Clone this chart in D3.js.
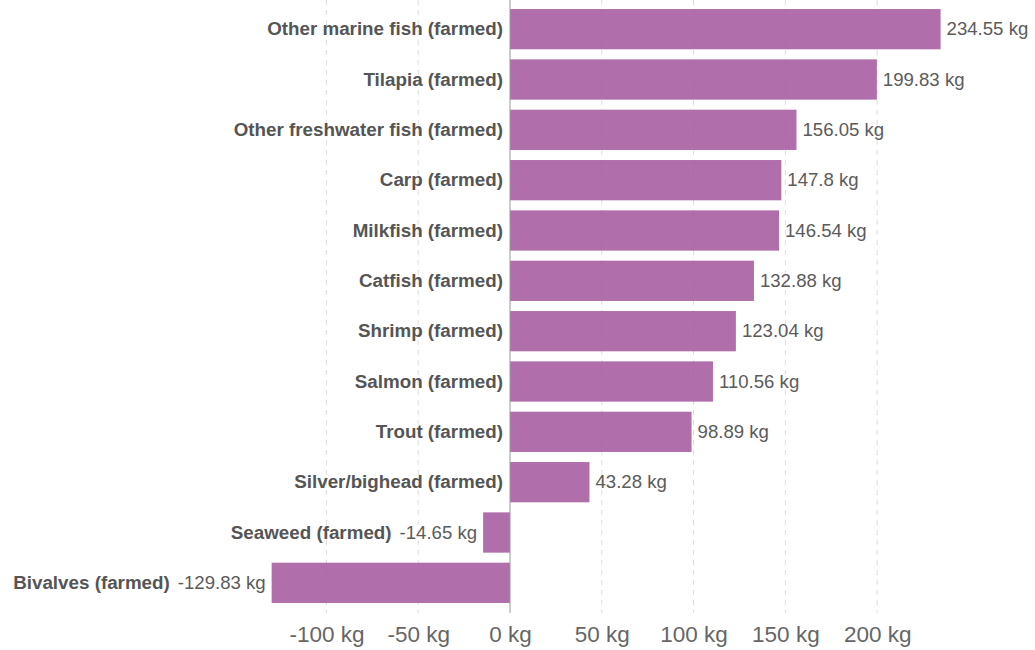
<!DOCTYPE html>
<html><head><meta charset="utf-8">
<script src="https://cdn.jsdelivr.net/npm/d3@7"></script>
<style>body{margin:0;background:#fff;}svg{display:block;font-family:"Liberation Sans",Arial,sans-serif;}</style>
</head><body><svg id="c" width="1035" height="650"></svg>
<script>
const categories = ["Other marine fish (farmed)","Tilapia (farmed)","Other freshwater fish (farmed)","Carp (farmed)","Milkfish (farmed)","Catfish (farmed)","Shrimp (farmed)","Salmon (farmed)","Trout (farmed)","Silver/bighead (farmed)","Seaweed (farmed)","Bivalves (farmed)"];
const values = [234.55,199.83,156.05,147.8,146.54,132.88,123.04,110.56,98.89,43.28,-14.65,-129.83];
const tickValues = [-100,-50,0,50,100,150,200];

const svg = d3.select("#c");
const x = d3.scaleLinear().domain([0,234.55]).range([510,940.6]);
const y = d3.scaleBand().domain(categories).range([4,608]).paddingInner(0.2).paddingOuter(0.1);
const fmt = v => (Math.round(v*100)/100) + " kg";

// grid
const g = svg.append("g");
g.selectAll("line.grid").data(tickValues.filter(d=>d!==0)).join("line")
  .attr("x1",d=>x(d)).attr("x2",d=>x(d)).attr("y1",0).attr("y2",613)
  .attr("stroke","#ddd").attr("stroke-dasharray","5,5").attr("stroke-width",1);

// bars
svg.selectAll("rect.bar").data(values).join("rect")
  .attr("x",d=>Math.min(x(0),x(d))).attr("width",d=>Math.abs(x(d)-x(0)))
  .attr("y",(d,i)=>y(categories[i])).attr("height",y.bandwidth())
  .attr("fill","#a2559c").attr("fill-opacity",0.85);

// zero line
svg.append("line").attr("x1",x(0)).attr("x2",x(0)).attr("y1",0).attr("y2",613)
  .attr("stroke","#999").attr("stroke-width",1);

// axis labels
const ax = d3.axisBottom(x).tickValues(tickValues).tickSize(0).tickFormat(d=>d+" kg");
const axG = svg.append("g").attr("transform","translate(0,623)").call(ax);
axG.select(".domain").remove();
axG.selectAll("text").attr("font-size",22.5).attr("fill","#666").attr("font-family","Liberation Sans, Arial, sans-serif");

// value labels and category labels
const catSize = 18.8, valSize = 18.6;
values.forEach((v,i)=>{
  const cy = y(categories[i]) + y.bandwidth()/2;
  const vt = svg.append("text").attr("y",cy).attr("dy","0.33em")
    .attr("font-size",valSize).attr("fill","#5b5b5b").text(fmt(v));
  if (v >= 0) {
    vt.attr("x", x(v)+6).attr("text-anchor","start");
    svg.append("text").attr("x",x(0)-7).attr("y",cy).attr("dy","0.33em")
      .attr("text-anchor","end").attr("font-size",catSize).attr("font-weight","bold").attr("fill","#555")
      .text(categories[i]);
  } else {
    vt.attr("x", x(v)-6).attr("text-anchor","end");
    const w = vt.node().getComputedTextLength();
    svg.append("text").attr("x",x(v)-6-w-8).attr("y",cy).attr("dy","0.33em")
      .attr("text-anchor","end").attr("font-size",catSize).attr("font-weight","bold").attr("fill","#555")
      .text(categories[i]);
  }
});
</script></body></html>
